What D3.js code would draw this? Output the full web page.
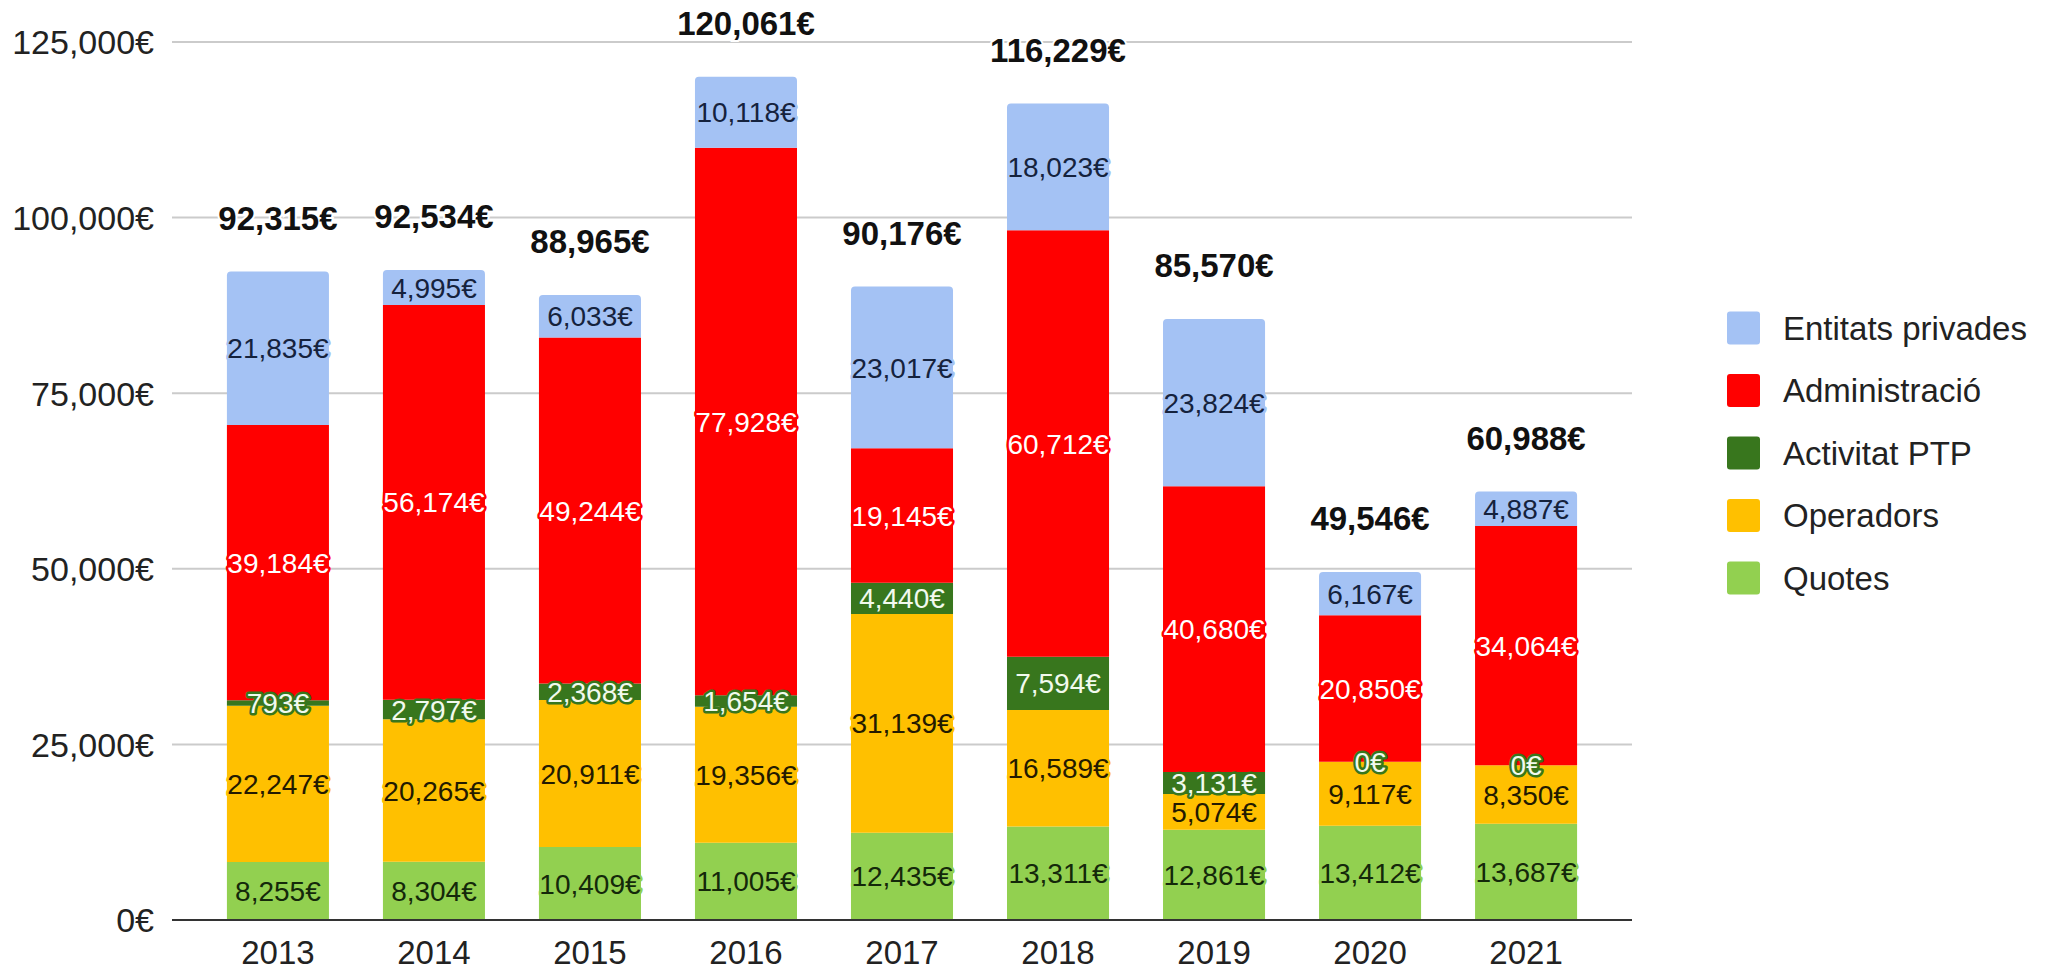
<!DOCTYPE html>
<html>
<head>
<meta charset="utf-8">
<script src="https://cdn.jsdelivr.net/npm/d3@7"></script>
<style>
  html, body { margin: 0; padding: 0; background: #ffffff; }
  svg { display: block; font-family: "Liberation Sans", Arial, sans-serif; }
</style>
</head>
<body>
<svg id="chart" width="2048" height="970"></svg>
<script>
// Funding sources per year (€)
const years = ["2013", "2014", "2015", "2016", "2017", "2018", "2019", "2020", "2021"];
const quotes = [8255, 8304, 10409, 11005, 12435, 13311, 12861, 13412, 13687];
const operadors = [22247, 20265, 20911, 19356, 31139, 16589, 5074, 9117, 8350];
const activitatPTP = [793, 2797, 2368, 1654, 4440, 7594, 3131, 0, 0];
const administracio = [39184, 56174, 49244, 77928, 19145, 60712, 40680, 20850, 34064];
const entitatsPrivades = [21835, 4995, 6033, 10118, 23017, 18023, 23824, 6167, 4887];
const totals = [92315, 92534, 88965, 120061, 90176, 116229, 85570, 49546, 60988];
const yTicks = [0, 25000, 50000, 75000, 100000, 125000];

// Stack order, bottom to top
const seriesKeys = ["Quotes", "Operadors", "Activitat PTP", "Administració", "Entitats privades"];
const seriesValues = {
  "Quotes": quotes,
  "Operadors": operadors,
  "Activitat PTP": activitatPTP,
  "Administració": administracio,
  "Entitats privades": entitatsPrivades
};
const fillColor = {
  "Quotes": "#92d050",
  "Operadors": "#ffc000",
  "Activitat PTP": "#38761d",
  "Administració": "#ff0000",
  "Entitats privades": "#a4c2f4"
};
const textColor = {
  "Quotes": "#14280a",
  "Operadors": "#231a00",
  "Activitat PTP": "#f2faee",
  "Administració": "#ffffff",
  "Entitats privades": "#15223d"
};

const rows = years.map((y, i) => {
  const r = { year: y };
  seriesKeys.forEach(k => { r[k] = seriesValues[k][i]; });
  return r;
});
const stacked = d3.stack().keys(seriesKeys)(rows);

const svg = d3.select("#chart");
const x = d3.scaleBand().domain(years).range([172, 1632]).paddingInner(0.346).paddingOuter(0.352);
const y = d3.scaleLinear().domain([0, 125000]).range([920, 42]);

const fmt = v => d3.format(",")(v) + "€";

// Gridlines
svg.append("g")
  .selectAll("line")
  .data(yTicks.filter(t => t > 0))
  .join("line")
  .attr("x1", 172).attr("x2", 1632)
  .attr("y1", d => y(d)).attr("y2", d => y(d))
  .attr("stroke", "#cbcbcb").attr("stroke-width", 2);

// Y axis labels
const yAxis = d3.axisLeft(y).tickValues(yTicks).tickSize(0).tickPadding(0).tickFormat(fmt);
const yg = svg.append("g").attr("transform", "translate(154,0)").call(yAxis);
yg.select(".domain").remove();
yg.selectAll("text")
  .attr("font-size", 34).attr("fill", "#222").attr("dy", "0.35em")
  .attr("font-family", "'Liberation Sans', Arial, sans-serif");

// Find the topmost non-zero segment of each bar (gets rounded top corners)
const topKey = years.map((yr, i) => {
  let k = null;
  seriesKeys.forEach(key => { if (seriesValues[key][i] > 0) k = key; });
  return k;
});

function segPath(x0, w, yTop, yBot, r) {
  if (r <= 0) return `M${x0},${yBot}V${yTop}H${x0 + w}V${yBot}Z`;
  return `M${x0},${yBot}V${yTop + r}Q${x0},${yTop} ${x0 + r},${yTop}` +
         `H${x0 + w - r}Q${x0 + w},${yTop} ${x0 + w},${yTop + r}V${yBot}Z`;
}

// Bars
const bars = svg.append("g");
stacked.forEach(layer => {
  bars.append("g")
    .selectAll("path")
    .data(layer)
    .join("path")
    .attr("fill", fillColor[layer.key])
    .attr("d", (d, i) => segPath(x(d.data.year), x.bandwidth(), y(d[1]), y(d[0]),
      topKey[i] === layer.key ? 4 : 0));
});

// Segment labels with halo in the segment colour
const labels = svg.append("g")
  .attr("font-size", 28)
  .attr("text-anchor", "middle");
stacked.forEach(layer => {
  labels.append("g")
    .selectAll("text")
    .data(layer)
    .join("text")
    .attr("x", d => x(d.data.year) + x.bandwidth() / 2)
    .attr("y", d => (y(d[0]) + y(d[1])) / 2)
    .attr("dy", "0.36em")
    .attr("fill", textColor[layer.key])
    .attr("stroke", fillColor[layer.key])
    .attr("stroke-width", 5)
    .attr("stroke-linejoin", "round")
    .attr("paint-order", "stroke")
    .text(d => fmt(d.data[layer.key]));
});

// Total labels above each bar
svg.append("g")
  .selectAll("text")
  .data(years)
  .join("text")
  .attr("x", d => x(d) + x.bandwidth() / 2)
  .attr("y", (d, i) => y(totals[i]) - 42)
  .attr("text-anchor", "middle")
  .attr("font-size", 33)
  .attr("font-weight", "bold")
  .attr("fill", "#111")
  .attr("stroke", "#ffffff").attr("stroke-width", 4).attr("paint-order", "stroke")
  .text((d, i) => fmt(totals[i]));

// Baseline
svg.append("line")
  .attr("x1", 172).attr("x2", 1632)
  .attr("y1", y(0)).attr("y2", y(0))
  .attr("stroke", "#333").attr("stroke-width", 2);

// X axis labels
const xAxis = d3.axisBottom(x).tickSize(0).tickPadding(0);
const xg = svg.append("g").attr("transform", "translate(0,964)").call(xAxis);
xg.select(".domain").remove();
xg.selectAll("text")
  .attr("font-size", 33).attr("fill", "#222").attr("dy", 0)
  .attr("font-family", "'Liberation Sans', Arial, sans-serif");

// Legend (top series first)
const legendKeys = seriesKeys.slice().reverse();
const legend = svg.append("g")
  .selectAll("g")
  .data(legendKeys)
  .join("g")
  .attr("transform", (d, i) => `translate(1727,${328 + i * 62.5})`);
legend.append("rect")
  .attr("x", 0).attr("y", -16.5).attr("width", 33).attr("height", 33)
  .attr("rx", 3).attr("fill", d => fillColor[d]);
legend.append("text")
  .attr("x", 56).attr("y", 0).attr("dy", "0.36em")
  .attr("font-size", 33).attr("fill", "#222")
  .text(d => d);
</script>
</body>
</html>
